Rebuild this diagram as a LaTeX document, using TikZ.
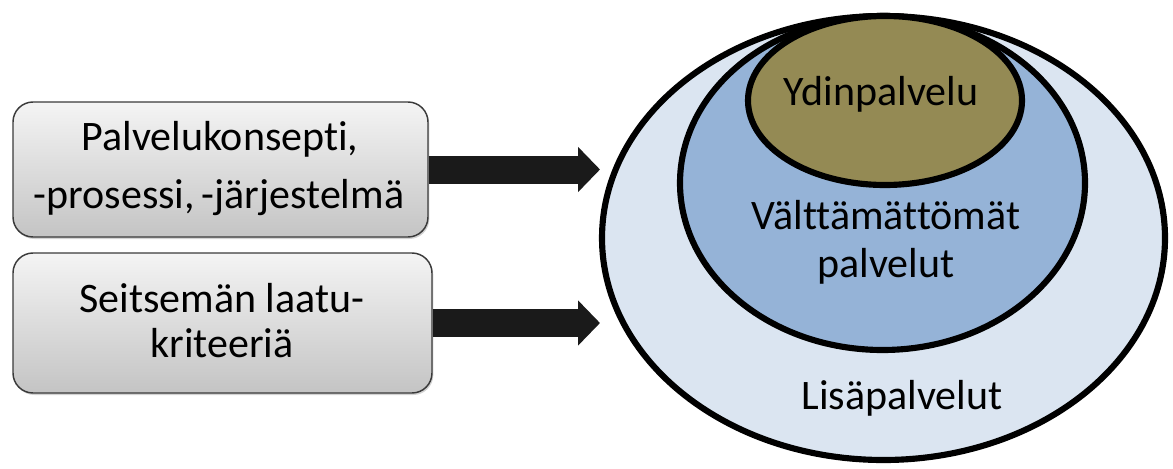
\documentclass[tikz,border=0pt]{standalone}
\usepackage{fontspec}
\setmainfont[Ligatures=NoCommon]{Carlito}
\usetikzlibrary{arrows.meta,shapes.geometric,shadows}

\definecolor{outerfill}{HTML}{DBE5F1}
\definecolor{midfill}{HTML}{95B3D7}
\definecolor{corefill}{HTML}{948A54}
\definecolor{boxtop}{HTML}{F4F4F4}
\definecolor{boxbottom}{HTML}{C4C4C4}
\definecolor{boxline}{HTML}{3A3A3A}
\definecolor{arrowdark}{HTML}{1A1A1A}

\tikzset{
  conceptbox/.style={draw=boxline, line width=1.1pt, rounded corners=15pt,
    top color=boxtop, bottom color=boxbottom, inner sep=0pt,
    drop shadow={shadow xshift=1pt, shadow yshift=-1.5pt, opacity=0.35}},
  ring/.style={ellipse, draw=black, line width=4.6pt, inner sep=0pt},
  label/.style={anchor=base, inner sep=0pt, font=\fontsize{31.5}{38}\selectfont},
  bigarrow/.style={draw=arrowdark, line width=21pt,
    -{Triangle[width=33pt,length=16.5pt,fill=arrowdark]}}
}

\begin{document}
\begin{tikzpicture}[x=0.75pt,y=-0.75pt]
\useasboundingbox (0,0) rectangle (1173,468);

% nested service layers
\node[ring, fill=outerfill, minimum width=422.25pt, minimum height=333pt]   (outer) at (883.5,238) {};
\node[ring, fill=midfill,   minimum width=303.75pt, minimum height=250.5pt] (mid)   at (882.5,183) {};
\node[ring, fill=corefill,  minimum width=205.5pt,  minimum height=126.75pt] (core) at (885,100.5) {};

\node[label] (coretext)  at (881,105) {Ydinpalvelu};
\node[label] (midtext1)  at (886,229) {Välttämättömät};
\node[label] (midtext2)  at (886,277) {palvelut};
\node[label] (outertext) at (902,409) {Lisäpalvelut};

% input boxes
\coordinate (tip1) at (600,169.5);
\coordinate (tip2) at (600,323);
\node[conceptbox, minimum width=311.25pt, minimum height=101.25pt] (box1) at (220.5,169.5) {};
\node[conceptbox, minimum width=314.25pt, minimum height=105pt]   (box2) at (222.5,323) {};

\draw[bigarrow] (box1.east) -- (tip1);
\draw[bigarrow] (box2.east) -- (tip2);

\node[label] (box1text1) at (220,150) {Palvelukonsepti,};
\node[label] (box1text2) at (219,208) {-prosessi,\hspace{0.16em}-järjestelmä};
\node[label] (box2text1) at (222,312) {Seitsemän laatu-};
\node[label] (box2text2) at (222,357) {kriteeriä};
\end{tikzpicture}
\end{document}
